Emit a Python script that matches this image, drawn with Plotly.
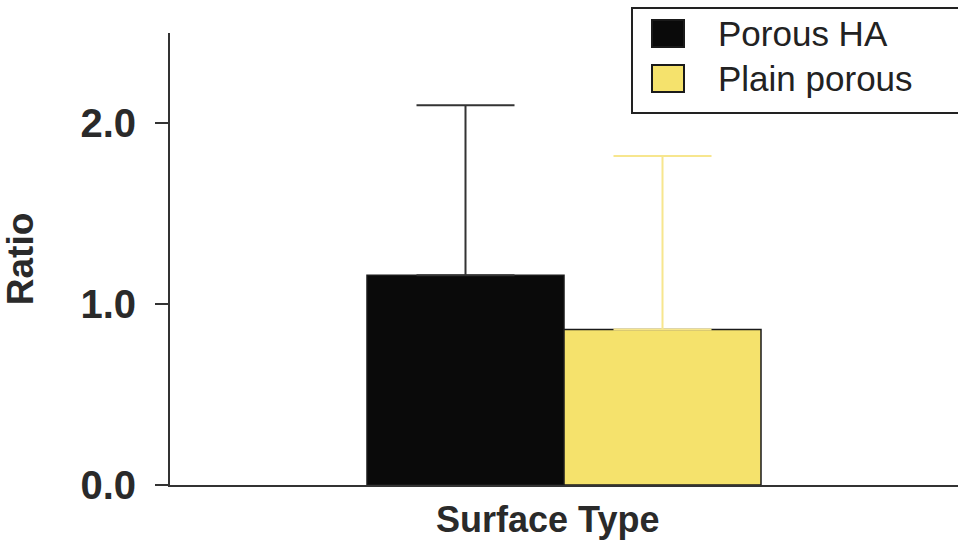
import plotly.graph_objects as go

# Data
group = ["Surface Type"]
series_names = ["Porous HA", "Plain porous"]
ratio_means = [1.16, 0.86]
ratio_errors = [0.94, 0.96]
bar_colors = ["#0a0a0a", "#f5e26c"]
err_colors = ["#333333", "#f7e68e"]
y_ticks = [0.0, 1.0, 2.0]
y_tick_labels = ["0.0", "1.0", "2.0"]

W, H = 958, 543
ML, MR, MT, MB = 170, 0, 33, 58
PW, PH = W - ML - MR, H - MT - MB

def px_x(p):
    return (p - ML) / PW

def px_y(p):
    return (H - MB - p) / PH

FONT = "Liberation Sans, Arial, sans-serif"

fig = go.Figure()
for name, m, e, c, ec in zip(series_names, ratio_means, ratio_errors, bar_colors, err_colors):
    fig.add_trace(go.Bar(
        x=group, y=[m], name=name,
        marker=dict(color=c, line=dict(color="#1a1a1a", width=1.5)),
        error_y=dict(type="data", symmetric=False, array=[e], arrayminus=[0],
                     color=ec, thickness=2, width=49),
        showlegend=False,
    ))

# Legend box drawn as shapes + text
shapes = [dict(type="rect", xref="paper", yref="paper",
               x0=px_x(632), x1=px_x(962), y0=px_y(113), y1=px_y(8),
               line=dict(color="#222222", width=2), fillcolor="white")]
for i, (name, c) in enumerate(zip(series_names, bar_colors)):
    top = 20 + i * 45
    shapes.append(dict(type="rect", xref="paper", yref="paper",
                       x0=px_x(652), x1=px_x(684), y0=px_y(top + 27), y1=px_y(top),
                       line=dict(color="#1a1a1a", width=2), fillcolor=c))
    fig.add_annotation(xref="paper", yref="paper", x=px_x(716), y=px_y(top + 13.5),
                       xanchor="left", yanchor="middle", text=name, showarrow=False,
                       font=dict(family=FONT, size=35, color="#222222"))

fig.add_annotation(xref="paper", yref="paper", x=px_x(547), y=px_y(519),
                   xanchor="center", yanchor="middle", text="<b>Surface Type</b>",
                   showarrow=False, font=dict(family=FONT, size=36, color="#2a2a2a"))

fig.update_layout(
    width=W, height=H,
    margin=dict(l=ML, r=MR, t=MT, b=MB),
    paper_bgcolor="white", plot_bgcolor="white",
    barmode="group", bargap=0.5, bargroupgap=0,
    shapes=shapes,
    font=dict(family=FONT, color="#2a2a2a"),
)
fig.update_xaxes(showticklabels=False, ticks="", showgrid=False, zeroline=False,
                 showline=True, linecolor="#333333", linewidth=2)
fig.update_yaxes(range=[0, 2.5], tickvals=y_ticks, ticktext=y_tick_labels,
                 ticks="outside", ticklen=13, tickwidth=2, tickcolor="#333333",
                 showline=True, linecolor="#333333", linewidth=2,
                 showgrid=False, zeroline=False,
                 tickfont=dict(family=FONT, size=40, color="#2a2a2a", weight="bold"),
                 ticklabelstandoff=11,
                 title=dict(text="<b>Ratio</b>", standoff=38,
                            font=dict(family=FONT, size=37, color="#2a2a2a")))

fig.write_html("out.html")
